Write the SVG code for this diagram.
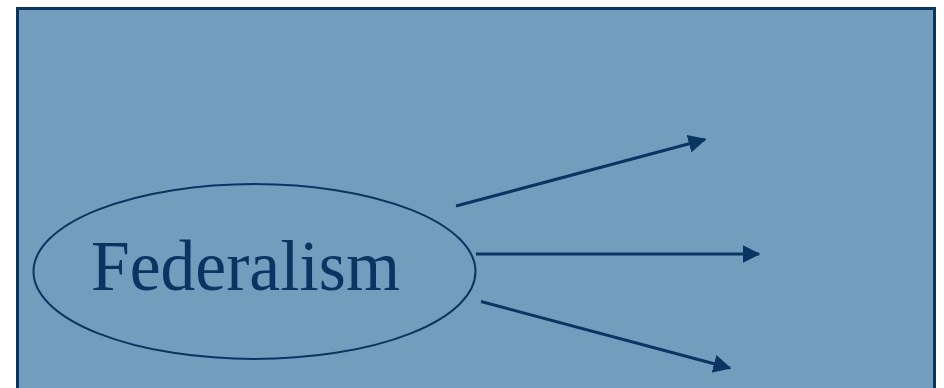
<svg xmlns="http://www.w3.org/2000/svg" width="944" height="388" viewBox="0 0 944 388">
<defs>
<style>
.c{stroke:#0a3462;stroke-width:3;fill:none}
.t{font-family:"Liberation Serif","Times New Roman",serif;fill:#0a3462}
</style>
<marker id="ah" markerWidth="6" markerHeight="6" refX="5.5" refY="3" orient="auto" markerUnits="strokeWidth">
<path d="M0,0 L6,3 L0,6 Z" fill="#0a3462"/>
</marker>
</defs>
<rect x="0" y="0" width="944" height="388" fill="#ffffff"/>
<rect id="panel" x="17.5" y="8.5" width="917" height="390" fill="#739dbd" stroke="#0a3462" stroke-width="3"/>
<g id="federalism">
<ellipse cx="254.5" cy="271.5" rx="221" ry="87.5" fill="none" stroke="#0a3462" stroke-width="2"/>
<text class="t" x="91" y="290" font-size="71" textLength="309" lengthAdjust="spacingAndGlyphs">Federalism</text>
</g>
<g id="connectors">
<line class="c" x1="456" y1="206" x2="705" y2="139.5" marker-end="url(#ah)"/>
<line class="c" x1="476" y1="254" x2="759" y2="254" marker-end="url(#ah)"/>
<line class="c" x1="481" y1="301.5" x2="730" y2="368" marker-end="url(#ah)"/>
</g>
</svg>
